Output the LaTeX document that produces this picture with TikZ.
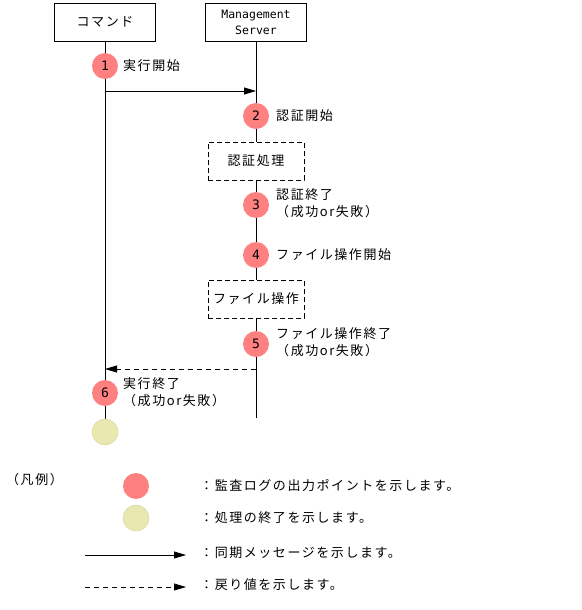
\documentclass[tikz,border=0pt]{standalone}
\usepackage{fontspec}
\setmainfont[LetterSpace=12]{Noto Sans CJK JP}
\newfontfamily\monof{DejaVu Sans Mono}
\usetikzlibrary{arrows.meta}
\definecolor{redpt}{HTML}{FF8080}
\definecolor{yelpt}{HTML}{E8E8B0}
\definecolor{yelbd}{HTML}{D0D098}
\tikzset{
  x=1pt,y=-1pt,
  lifebox/.style={draw,line width=0.8pt,minimum width=101pt,minimum height=38pt,inner sep=0pt,font=\fontsize{13}{15}\selectfont},
  procbox/.style={draw,dash pattern=on 5pt off 3pt,line width=0.8pt,minimum width=96pt,minimum height=38pt,inner sep=0pt,font=\fontsize{13}{15}\selectfont},
  redc/.style={circle,fill=redpt,minimum size=26pt,inner sep=0pt,font=\monof\fontsize{13}{14}\selectfont},
  yelc/.style={circle,fill=yelpt,draw=yelbd,minimum size=26pt,inner sep=0pt},
  lbl/.style={anchor=west,inner sep=0pt,font=\fontsize{13}{17}\selectfont,align=left},
  msg/.style={line width=0.8pt,-{Triangle[length=12pt,width=7pt]}},
  ret/.style={msg,dash pattern=on 5pt off 4pt},
  life/.style={line width=0.8pt},
}
\begin{document}
\begin{tikzpicture}
\useasboundingbox (0,0) rectangle (581,610);
\node[lifebox] (cmd) at (105,22) {コマンド};
\node[lifebox,font=\monof\fontsize{11.5}{16}\selectfont,align=center] (srv) at (256,22) {Management\\Server};
% lifelines
\coordinate (cmdEnd) at (105,432);
\coordinate (srvEnd) at (256,418);
\node[procbox] (auth) at (256,161) {認証処理};
\node[procbox] (file) at (256,299) {ファイル操作};
\draw[life] (cmd.south) -- (cmdEnd);
\draw[life] (srv.south) -- (auth.north);
\draw[life] (auth.south) -- (file.north);
\draw[life] (file.south) -- (srvEnd);
\coordinate (m1a) at (105,91);
\coordinate (m1b) at (256,91);
\coordinate (m2a) at (256,369);
\coordinate (m2b) at (105,369);
\draw[msg] (m1a) -- (m1b);
\draw[ret] (m2a) -- (m2b);
\node[redc] (p1) at (105,66) {1};
\node[redc] (p2) at (256,116) {2};
\node[redc] (p3) at (256,205) {3};
\node[redc] (p4) at (256,255) {4};
\node[redc] (p5) at (256,344) {5};
\node[redc] (p6) at (105,393) {6};
\node[yelc] (fin) at (105,432) {};
\node[lbl] (t1) at (123,66) {実行開始};
\node[lbl] (t2) at (276,116) {認証開始};
\node[lbl] (t3) at (276,203) {認証終了\\（成功or失敗）};
\node[lbl] (t4) at (276,255) {ファイル操作開始};
\node[lbl] (t5) at (276,342) {ファイル操作終了\\（成功or失敗）};
\node[lbl] (t6) at (123,392) {実行終了\\（成功or失敗）};
% legend
\node[lbl] (leg) at (6,480) {（凡例）};
\node[redc] (lr) at (136,486) {};
\node[yelc] (ly) at (136,518) {};
\node[lbl] (lt1) at (200,486) {：監査ログの出力ポイントを示します。};
\node[lbl] (lt2) at (200,518) {：処理の終了を示します。};
\coordinate (la1) at (85,555);
\coordinate (la2) at (186,555);
\coordinate (lb1) at (85,587);
\coordinate (lb2) at (186,587);
\draw[msg] (la1) -- (la2);
\draw[ret] (lb1) -- (lb2);
\node[lbl] (lt3) at (200,553) {：同期メッセージを示します。};
\node[lbl] (lt4) at (200,585) {：戻り値を示します。};
\end{tikzpicture}
\end{document}
